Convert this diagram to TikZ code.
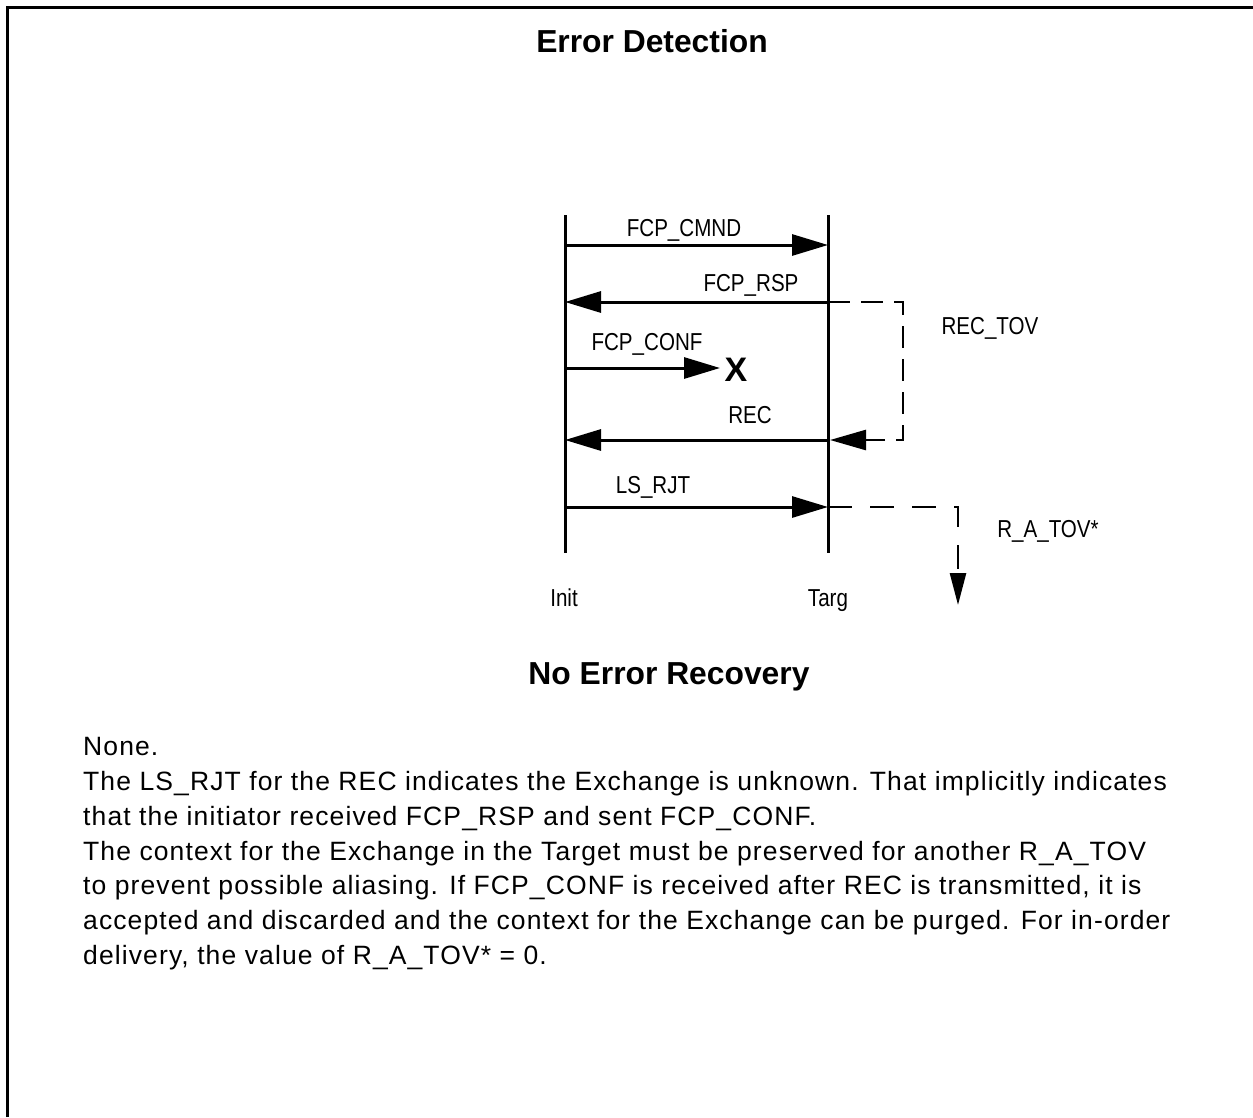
\documentclass[tikz,border=0pt]{standalone}
\usepackage{fontspec}
\setmainfont{Liberation Sans}
\newfontfamily\narrowfont[FakeStretch=0.84]{Liberation Sans}
\newfontfamily\bodyfont[LetterSpace=4.2]{Liberation Sans}
\usetikzlibrary{arrows.meta}
\begin{document}
\begin{tikzpicture}[x=1pt,y=-1pt,
  lifeline/.style={line width=3pt},
  msg/.style={line width=3pt,-{Triangle[length=36pt,width=21pt]}},
  timer/.style={line width=2.6pt,dash pattern=on 22pt off 11pt,-{Triangle[length=36pt,width=20pt]}},
  timerb/.style={line width=2.6pt,dash pattern=on 24pt off 18pt,-{Triangle[length=32pt,width=16pt]}},
  lbl/.style={font=\narrowfont\fontsize{24.5}{28}\selectfont,anchor=base,inner sep=0pt},
  ttl/.style={font=\bfseries\fontsize{31.8}{34}\selectfont,anchor=base,inner sep=0pt},
  body/.style={font=\bodyfont\fontsize{26.5}{30}\selectfont,anchor=base west,inner sep=0pt}]
\useasboundingbox (0,0) rectangle (1253,1117);
% frame
\draw[line width=3pt] (7,1117) -- (7,7) -- (1253,7);
% titles
\node[ttl] (title) at (652,52) {Error Detection};
\node[ttl] (title2) at (669,684) {No Error Recovery};
% lifelines
\coordinate (it) at (565,215); \coordinate (ib) at (565,553);
\coordinate (tt) at (828,215); \coordinate (tb) at (828,553);
\draw[lifeline] (it) -- (ib);
\draw[lifeline] (tt) -- (tb);
\node[lbl] (init) at (564,606) {Init};
\node[lbl] (targ) at (828,606) {Targ};
% messages
\coordinate (a1) at (565,245); \coordinate (b1) at (828,245);
\draw[msg] (a1) -- (b1);
\node[lbl] (l1) at (684,236) {FCP\_CMND};
\coordinate (a2) at (828,302); \coordinate (b2) at (565,302);
\draw[msg] (a2) -- (b2);
\node[lbl] (l2) at (751,291) {FCP\_RSP};
\coordinate (a3) at (565,368); \coordinate (b3) at (720,368);
\draw[msg] (a3) -- (b3);
\node[lbl] (l3) at (647,350) {FCP\_CONF};
\node[font=\bfseries\fontsize{34}{36}\selectfont,inner sep=0pt] (x) at (736,370) {X};
\coordinate (a4) at (828,440); \coordinate (b4) at (565,440);
\draw[msg] (a4) -- (b4);
\node[lbl] (l4) at (750,423) {REC};
\coordinate (a5) at (565,507); \coordinate (b5) at (828,507);
\draw[msg] (a5) -- (b5);
\node[lbl] (l5) at (653,493) {LS\_RJT};
% timers
\coordinate (c1) at (903,302); \coordinate (c2) at (903,440); \coordinate (c3) at (830,440);
\draw[timer] (a2) -- (c1) -- (c2) -- (c3);
\node[lbl] (l6) at (990,334) {REC\_TOV};
\coordinate (d1) at (958,507); \coordinate (d2) at (958,605);
\draw[timerb] (b5) -- (d1) -- (d2);
\node[lbl] (l7) at (1048,537) {R\_A\_TOV*};
% body text
\node[body] (t1) at (83,755) {None.};
\node[body] (t2) at (83,790) {The LS\_RJT for the REC indicates the Exchange is unknown. That implicitly indicates};
\node[body] (t3) at (83,825) {that the initiator received FCP\_RSP and sent FCP\_CONF.};
\node[body] (t4) at (83,860) {The context for the Exchange in the Target must be preserved for another R\_A\_TOV};
\node[body] (t5) at (83,894) {to prevent possible aliasing. If FCP\_CONF is received after REC is transmitted, it is};
\node[body] (t6) at (83,929) {accepted and discarded and the context for the Exchange can be purged. For in-order};
\node[body] (t7) at (83,964) {delivery, the value of R\_A\_TOV* = 0.};
\end{tikzpicture}
\end{document}
